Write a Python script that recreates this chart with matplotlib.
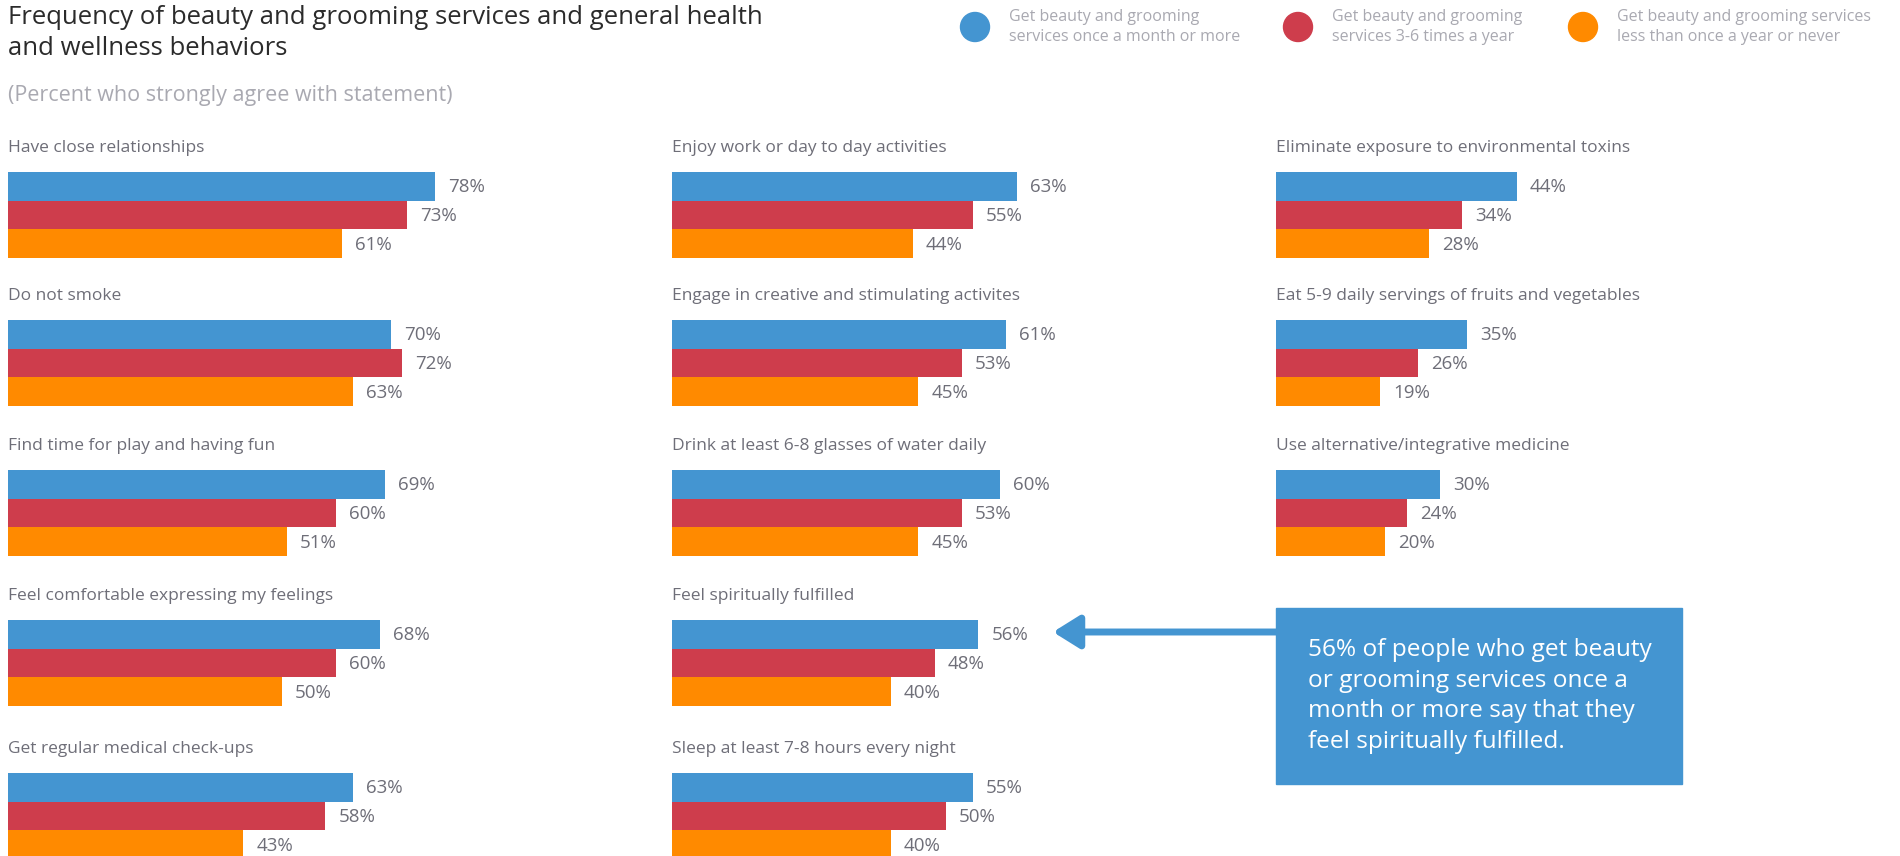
import matplotlib.pyplot as plt
from matplotlib.patches import Circle, Rectangle, FancyArrowPatch

plt.rcParams['font.family'] = ['Open Sans', 'DejaVu Sans']

W, H = 1900, 856

series_labels = [
    "Get beauty and grooming\nservices once a month or more",
    "Get beauty and grooming\nservices 3-6 times a year",
    "Get beauty and grooming services\nless than once a year or never",
]
colors = ["#4495D1", "#CE3D4C", "#FF8A00"]

col1_labels = [
    "Have close relationships",
    "Do not smoke",
    "Find time for play and having fun",
    "Feel comfortable expressing my feelings",
    "Get regular medical check-ups",
]
col1_values = [[78, 73, 61], [70, 72, 63], [69, 60, 51], [68, 60, 50], [63, 58, 43]]

col2_labels = [
    "Enjoy work or day to day activities",
    "Engage in creative and stimulating activites",
    "Drink at least 6-8 glasses of water daily",
    "Feel spiritually fulfilled",
    "Sleep at least 7-8 hours every night",
]
col2_values = [[63, 55, 44], [61, 53, 45], [60, 53, 45], [56, 48, 40], [55, 50, 40]]

col3_labels = [
    "Eliminate exposure to environmental toxins",
    "Eat 5-9 daily servings of fruits and vegetables",
    "Use alternative/integrative medicine",
]
col3_values = [[44, 34, 28], [35, 26, 19], [30, 24, 20]]

title = "Frequency of beauty and grooming services and general health\nand wellness behaviors"
subtitle = "(Percent who strongly agree with statement)"
callout = ("56% of people who get beauty\nor grooming services once a\n"
           "month or more say that they\nfeel spiritually fulfilled.")

label_color = "#6E6E78"
muted = "#A9A9B1"

fig = plt.figure(figsize=(W / 100, H / 100), dpi=100)

# group layout in pixels
col_left = [8, 672, 1276]
row_top = [172, 320, 470, 620, 773]
span = 547      # pixels for 0..100 %
group_h = 86


def draw_group(x0, top, label, vals):
    ax = fig.add_axes([x0 / W, 1 - (top + group_h) / H, span / W, group_h / H])
    ax.barh(range(3), vals, height=1.0, color=colors)
    ax.set_xlim(0, 100)
    ax.set_ylim(2.5, -0.5)
    ax.axis("off")
    for i, v in enumerate(vals):
        ax.annotate(f"{v}%", xy=(v, i), xytext=(13, -1), textcoords="offset pixels",
                    va="center", ha="left", fontsize=13.5, color=label_color,
                    annotation_clip=False)
    ax.annotate(label, xy=(0, 1), xycoords="axes fraction", xytext=(0, 24),
                textcoords="offset pixels", va="center", ha="left",
                fontsize=12.5, color=label_color)


for c, (labels, values) in enumerate([(col1_labels, col1_values),
                                      (col2_labels, col2_values),
                                      (col3_labels, col3_values)]):
    for r, (lab, vals) in enumerate(zip(labels, values)):
        draw_group(col_left[c], row_top[r], lab, vals)

# overlay in pixel coordinates for title, legend and callout
ov = fig.add_axes([0, 0, 1, 1], zorder=-1)
ov.set_xlim(0, W)
ov.set_ylim(H, 0)
ov.axis("off")

ov.text(8, 33, title, fontsize=18.5, color="#2B2B2B", va="center", ha="left",
        linespacing=1.27)
ov.text(8, 95, subtitle, fontsize=15.5, color=muted, va="center", ha="left")

legend_x = [975, 1298, 1583]
for x, lab, col in zip(legend_x, series_labels, colors):
    ov.add_patch(Circle((x, 27), 14.5, color=col))
    ov.text(x + 34, 27, lab, fontsize=11.5, color=muted, va="center", ha="left",
            linespacing=1.35)

ov.add_patch(Rectangle((1276, 608), 406, 176, color=colors[0]))
ov.text(1308, 696, callout, fontsize=17.6, color="white", va="center", ha="left",
        linespacing=1.36)
ov.add_patch(FancyArrowPatch((1276, 632), (1053, 632),
                             arrowstyle="-|>,head_length=16,head_width=10",
                             mutation_scale=1, lw=5, color=colors[0],
                             shrinkA=0, shrinkB=0))

fig.savefig("out.png", dpi=100)
